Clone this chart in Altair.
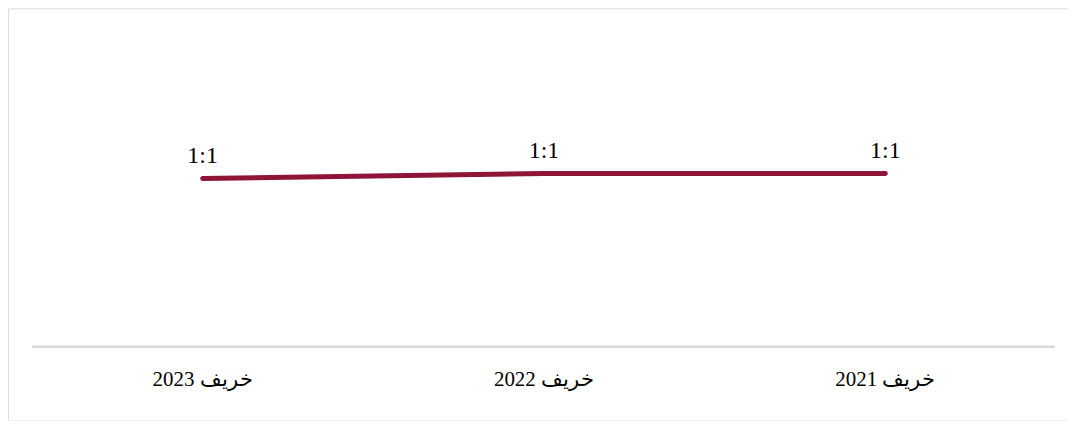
import altair as alt
import pandas as pd

seasons = ["خريف 2023", "خريف 2022", "خريف 2021"]
ratios = [1.00, 1.03, 1.03]
ratio_labels = ["1:1", "1:1", "1:1"]

df = pd.DataFrame({"season": seasons, "ratio": ratios, "label": ratio_labels})

FONT = "Liberation Serif"
COLOR = "#8e1537"

x_enc = alt.X("season:N", sort=seasons, axis=None,
              scale=alt.Scale(type="point", range=[195, 879], padding=0))
y_enc = alt.Y("ratio:Q", axis=None,
              scale=alt.Scale(domain=[0, 2], range=[339, 2], zero=False, nice=False))

base = alt.Chart(df)

line = base.mark_line(color=COLOR, strokeWidth=5, strokeCap="round").encode(x=x_enc, y=y_enc)

labels = base.mark_text(font=FONT, fontSize=24, color="#000000", dy=-23,
                        baseline="middle", align="center").encode(
    x=x_enc, y=y_enc, text="label:N")

axis_line = base.mark_rule(color="#d9d9d9", strokeWidth=2).encode(
    x=alt.value(24), x2=alt.value(1049), y=alt.value(339))

xlabels = base.mark_text(font=FONT, fontSize=21, color="#000000",
                         baseline="middle", align="center").encode(
    x=x_enc, y=alt.value(372), text="season:N")

chart = alt.layer(axis_line, line, labels, xlabels).properties(
    width=1062, height=413, padding=0,
    autosize=alt.AutoSizeParams(type="none"),
).configure_view(stroke="#d9d9d9", strokeWidth=1.5).configure(background="white")

chart.save("out.html", embed_options={"renderer": "svg", "actions": False})
